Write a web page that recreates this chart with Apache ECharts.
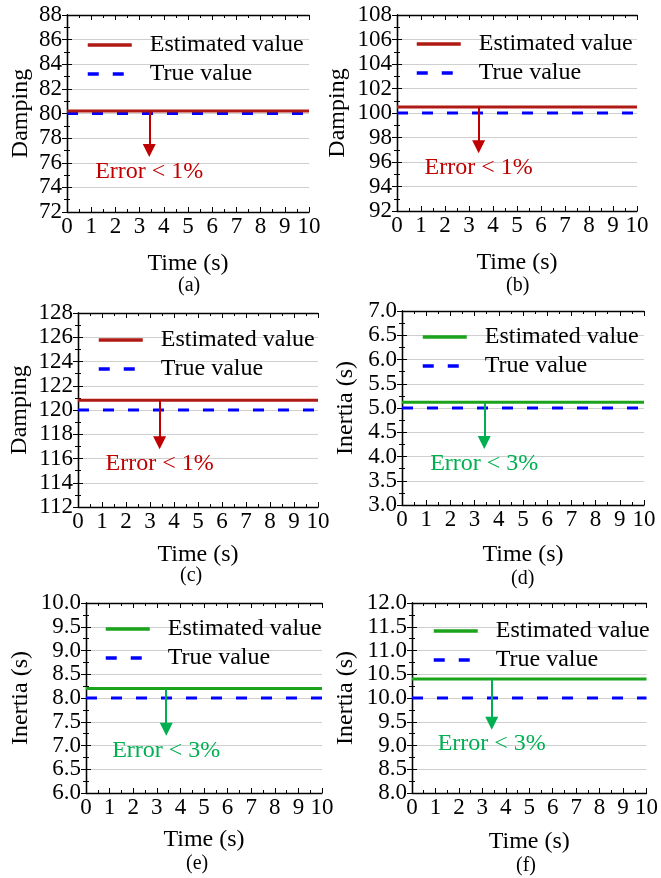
<!DOCTYPE html>
<html>
<head>
<meta charset="utf-8">
<script src="https://cdn.jsdelivr.net/npm/echarts@6/dist/echarts.min.js"></script>
<style>
  html, body { margin: 0; padding: 0; background: #fff; }
  #chart { width: 661px; height: 878px; }
</style>
</head>
<body>
<div id="chart"></div>
<script>
// data
const panelTags = ['(a)', '(b)', '(c)', '(d)', '(e)', '(f)'];
const yNames = ['Damping', 'Damping', 'Damping', 'Inertia (s)', 'Inertia (s)', 'Inertia (s)'];
const yMins = [72, 92, 112, 3, 6, 8];
const yMaxs = [88, 108, 128, 7, 10, 12];
const ySteps = [2, 2, 2, 0.5, 0.5, 0.5];
const timeSpan = [0, 10];
const trueValues = [80, 100, 120, 5, 8, 10];
const estimatedValues = [80.2, 100.5, 120.8, 5.12, 8.2, 10.4];
const errorLabels = ['Error < 1%', 'Error < 1%', 'Error < 1%', 'Error < 3%', 'Error < 3%', 'Error < 3%'];
const arrowTime = 3.4;
// centre of each arrow head
const arrowEnds = [77.0, 97.25, 117.3, 4.29, 7.34, 9.47];

// layout of the six panels (px)
const boxes = [
  { left: 67, top: 15, width: 242, height: 197, nameGap: 34, xGap: 40, legend: [86, 33], tag: [190, 287] },
  { left: 397, top: 15, width: 240, height: 196, nameGap: 47, xGap: 40, legend: [415, 32], tag: [518, 287] },
  { left: 78, top: 313, width: 240, height: 194, nameGap: 46, xGap: 36, legend: [97, 328], tag: [192, 577] },
  { left: 402, top: 311, width: 242, height: 194, nameGap: 44, xGap: 38, legend: [421, 325], tag: [523, 580] },
  { left: 86, top: 603, width: 236, height: 190, nameGap: 53, xGap: 35, legend: [104, 617], tag: [198, 865] },
  { left: 412, top: 603, width: 237, height: 190, nameGap: 54, xGap: 37, legend: [432, 619], tag: [528, 867] }
];

const FONT = 'Liberation Serif';
const RED = '#b01a14', RED_TXT = '#c00000';
const GREEN = '#1ba31b', GREEN_TXT = '#00b050';
const BLUE = '#0000ff';

const chart = echarts.init(document.getElementById('chart'), null, { renderer: 'canvas' });

const grid = [], xAxis = [], yAxis = [], series = [], legend = [], graphic = [];

const tickStyle = { show: true, inside: true, length: 5, lineStyle: { color: '#000', width: 1 } };
const minorStyle = { show: true, splitNumber: 2, length: 3, lineStyle: { color: '#000', width: 1 } };
const lineAx = { show: true, lineStyle: { color: '#000', width: 1.3 } };

panelTags.forEach((tag, i) => {
  const b = boxes[i];
  const estColor = i < 3 ? RED : GREEN;
  const txtColor = i < 3 ? RED_TXT : GREEN_TXT;
  const decimals = ySteps[i] < 1 ? 1 : 0;
  grid.push({ left: b.left, top: b.top, width: b.width, height: b.height, containLabel: false });

  // bottom + top x axes
  xAxis.push({
    type: 'value', gridIndex: i, min: timeSpan[0], max: timeSpan[1], interval: 1,
    position: 'bottom',
    name: 'Time (s)', nameLocation: 'middle', nameGap: b.xGap,
    nameTextStyle: { fontFamily: FONT, fontSize: 24, color: '#000' },
    axisLine: lineAx, axisTick: tickStyle, minorTick: minorStyle,
    axisLabel: { fontFamily: FONT, fontSize: 23, color: '#000', margin: 3 },
    splitLine: { show: false }
  });
  xAxis.push({
    type: 'value', gridIndex: i, min: timeSpan[0], max: timeSpan[1], interval: 1,
    position: 'top',
    axisLine: lineAx, axisTick: tickStyle, minorTick: minorStyle,
    axisLabel: { show: false }, splitLine: { show: false }
  });

  // left + right y axes
  yAxis.push({
    type: 'value', gridIndex: i, min: yMins[i], max: yMaxs[i], interval: ySteps[i],
    position: 'left',
    name: yNames[i], nameLocation: 'middle', nameGap: b.nameGap,
    nameTextStyle: { fontFamily: FONT, fontSize: 24, color: '#000' },
    axisLine: lineAx, axisTick: tickStyle, minorTick: minorStyle,
    axisLabel: {
      fontFamily: FONT, fontSize: 23, color: '#000', margin: 5,
      formatter: v => v.toFixed(decimals)
    },
    splitLine: { show: true, lineStyle: { color: '#cfcfcf', width: 1 } }
  });
  yAxis.push({
    type: 'value', gridIndex: i, min: yMins[i], max: yMaxs[i], interval: ySteps[i],
    position: 'right',
    axisLine: lineAx, axisTick: tickStyle, minorTick: minorStyle,
    axisLabel: { show: false }, splitLine: { show: false }
  });

  const estName = 'Estimated value ' + tag;
  const trueName = 'True value ' + tag;

  series.push({
    name: trueName, type: 'line', xAxisIndex: 2 * i, yAxisIndex: 2 * i,
    data: [[timeSpan[0], trueValues[i]], [timeSpan[1], trueValues[i]]],
    symbol: 'none', z: 3, animation: false,
    lineStyle: { color: BLUE, width: 3, type: [11, 14] },
    itemStyle: { color: BLUE }
  });
  series.push({
    name: estName, type: 'line', xAxisIndex: 2 * i, yAxisIndex: 2 * i,
    data: [[timeSpan[0], estimatedValues[i]], [timeSpan[1], estimatedValues[i]]],
    symbol: 'none', z: 4, animation: false,
    lineStyle: { color: estColor, width: 3 },
    itemStyle: { color: estColor },
    markLine: {
      silent: true, animation: false,
      symbol: ['none', 'triangle'], symbolSize: 13,
      lineStyle: { color: txtColor, width: 2, type: 'solid' },
      label: {
        show: true, position: 'end', distance: 9,
        formatter: errorLabels[i],
        fontFamily: FONT, fontSize: 24, color: txtColor
      },
      data: [[
        { coord: [arrowTime, estimatedValues[i]] },
        { coord: [arrowTime, arrowEnds[i]] }
      ]]
    }
  });

  legend.push({
    left: b.legend[0], top: b.legend[1], orient: 'vertical', padding: 0,
    data: [estName, trueName],
    itemWidth: 44, itemHeight: 14, itemGap: 5,
    selectedMode: false,
    itemStyle: { color: 'rgba(0,0,0,0)', borderWidth: 0 },
    lineStyle: { width: 3.5 },
    formatter: n => n.replace(/ \(.\)$/, ''),
    textStyle: { fontFamily: FONT, fontSize: 24, color: '#000', padding: [0, 0, 0, 13] }
  });

  graphic.push({
    type: 'text', left: b.tag[0] - 12, top: b.tag[1] - 11,
    style: { text: tag, fontFamily: FONT, fontSize: 20, fill: '#000' }
  });
});

chart.setOption({
  backgroundColor: '#fff',
  animation: false,
  grid, xAxis, yAxis, series, legend, graphic
});
</script>
</body>
</html>
